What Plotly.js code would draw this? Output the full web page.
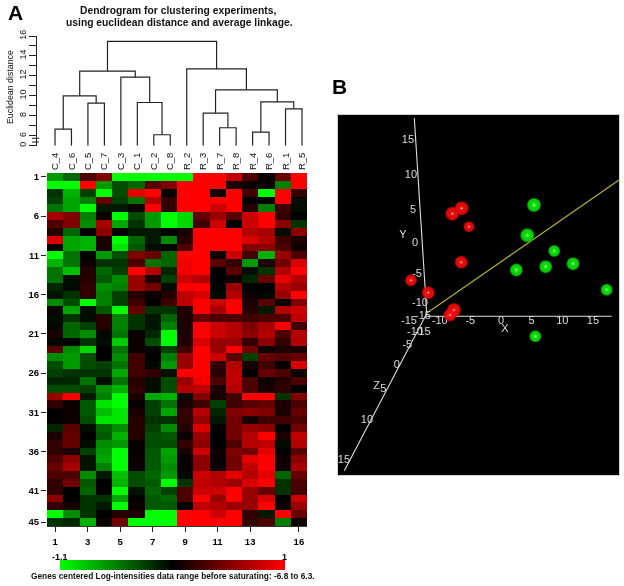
<!DOCTYPE html>
<html>
<head>
<meta charset="utf-8">
<script src="https://cdn.plot.ly/plotly-3.0.1.min.js"></script>
<style>html,body{margin:0;padding:0;background:#fff}#chart{width:624px;height:586px}.main-svg{will-change:transform}</style>
</head>
<body>
<div id="chart"></div>
<script>
// ---------- Panel A: dendrogram ----------
const leafLabels = ['C_4','C_6','C_5','C_7','C_3','C_1','C_2','C_8','R_2','R_3','R_7','R_8','R_4','R_6','R_1','R_5'];
// negative = leaf (1-based), positive = earlier merge (1-based)
const mergeLeft   = [-1,-3, 1,-7,-6,-5, 3,-11,-10,-13,-15,10, 9,-9, 7];
const mergeRight  = [-2,-4, 2,-8, 4, 5, 6,-12,  8,-14,-16,11,12,13,14];
const mergeHeight = [6.67,9.27,10.0,6.1,9.33,11.87,12.47,6.8,8.27,6.37,8.7,9.4,10.6,12.7,15.47];
const distTickVals = [5,6,7,8,9,10,11,12,13,14,15,16];
const distTickText = ['0','6','','8','','10','','12','','14','','16'];

// ---------- Panel A: heatmap (rows 1..45, experiments 1..16) ----------
const row01 = [-.6,-.4,.3,.5,-1,-1,-1,-1,-1,1,1,.75,.3,.03,.4,1];
const row02 = [-1,-1,1,-.6,-.3,-.4,.35,.5,1,1,1,.1,.05,.05,-.5,1];
const row03 = [-.2,-.7,-.25,-1,-.3,.9,1,0,1,1,.05,1,.25,-1,1,.2];
const row04 = [-.25,-.65,-.5,.4,-.25,-.45,.7,.2,1,1,1,1,0,0,1,-.05];
const row05 = [-.45,-.65,-1,-.1,-.1,.05,1,.2,1,1,.8,1,.15,-.5,.25,-.05];
const row06 = [.65,.5,-.5,.05,-1,-.3,-.6,-1,-.85,.4,.6,.35,.8,1,.2,0];
const row07 = [.3,.5,-.55,.65,-.65,-.2,-.6,-1,-.85,.25,.8,0,.8,1,.55,-.2];
const row08 = [.15,-.4,0,.55,0,-.1,-.1,-.02,.1,1,1,1,.7,.65,-.05,.55];
const row09 = [.85,-.65,-.7,.1,-1,-.4,-.1,-.55,.15,1,1,1,.85,.7,.25,.1];
const row10 = [.05,-.65,-.7,.1,-.9,-.35,-.05,0,.3,1,1,1,.5,.55,.3,.05];
const row11 = [-1,-.45,0,-.6,-.3,.5,.4,-.4,1,1,.05,.8,.25,-.7,.6,.3];
const row12 = [-.7,-.45,.05,-.2,-.2,.3,-.45,-.4,.95,1,.35,.2,-.6,.1,.45,.85];
const row13 = [-.45,-.75,.15,-.4,-.25,1,.7,-.15,.95,1,0,.35,-.05,-.2,.7,1];
const row14 = [-.45,-.05,.15,-.35,-.55,.6,.12,-.25,.8,.7,0,.05,-.15,.4,.9,.7];
const row15 = [-.15,-.05,.2,-.55,-.5,.6,.45,-.05,1,1,-.02,.6,0,0,.7,.6];
const row16 = [-.07,-.2,.2,-.5,-.25,.15,.05,.15,.75,.85,-.03,.7,.05,-.03,.6,1];
const row17 = [-.55,-.3,-1,-.5,-.25,.25,0,.25,.75,1,.8,1,.1,.35,0,.5];
const row18 = [.05,-.65,-.05,-.35,-1,.4,-.2,-.2,.12,1,.65,1,.15,-.1,.7,.8];
const row19 = [-.05,-.2,-.05,.15,-.5,-.2,-.08,-.4,.12,.4,.3,.3,.25,.3,.3,.75];
const row20 = [-.03,-.4,-.25,.15,-.5,-.2,-.08,-.5,.1,1,.8,.7,.5,.65,1,.25];
const row21 = [.1,-.4,-.55,-.03,-.45,.05,-.15,-1,.12,1,.8,.7,.55,.7,.3,.7];
const row22 = [-.03,0,-.2,-.05,-.8,.05,-.3,-1,.12,.85,.6,.6,.2,.55,.2,.7];
const row23 = [.35,-.55,-.85,0,-.45,.05,-.03,-.25,.25,1,.6,1,.45,.05,.12,.1];
const row24 = [-.55,-.6,-.3,0,-.55,.25,0,-.5,.6,1,.8,.35,-.25,.4,.35,.4];
const row25 = [-.3,-.6,-.3,-.25,-.45,.25,-.03,-.6,.6,1,.2,.7,.1,.25,.03,.85];
const row26 = [-.25,-.2,-.2,-.2,-.65,.25,.2,-.05,1,1,.15,.75,0,.4,.3,.03];
const row27 = [-.15,-.15,-.45,-.05,-.45,.15,-.05,-.3,.6,.95,.3,.75,.3,.05,.15,.3];
const row28 = [-.3,-.3,-.25,-.55,-.7,.2,-.05,-.3,.7,.75,.1,.7,.3,.1,.2,0];
const row29 = [.6,1,-.1,-.5,-1,.1,-.65,-.7,-.03,.5,.1,.25,1,1,-.2,.5];
const row30 = [.2,.05,-.35,-.9,-1,.03,-.25,-.45,.1,.25,-.25,.25,.35,.4,.1,.3];
const row31 = [0,.05,-.35,-.75,-.9,.1,-.25,-.65,.2,.7,-.15,.5,.55,.5,.1,.4];
const row32 = [.02,.05,-.3,-.9,-.9,.15,-.2,-.2,.2,.6,-.1,.45,.1,.25,.25,.3];
const row33 = [-.15,.35,-.05,-.4,-.55,.15,-.25,-.55,.15,.85,.02,.45,.6,.55,0,.45];
const row34 = [.1,.4,0,-.35,-.7,.15,-.3,-.35,.05,.6,0,.45,.7,1,.12,.75];
const row35 = [.2,.4,-.05,-.55,-.6,.03,-.3,-.3,.2,.55,0,.3,.7,.75,-.05,.7];
const row36 = [.2,.1,-.25,-.6,-1,.03,-.35,-.65,.1,.8,.05,.5,.45,.9,0,.35];
const row37 = [.3,.55,-.07,-.65,-1,.05,-.35,-.6,.03,.55,.03,.45,.9,1,.07,.55];
const row38 = [.4,.65,-.07,-.5,-1,.05,-.35,-.55,.03,.55,.05,.45,.75,1,.07,.65];
const row39 = [.3,.3,-.55,-.1,-.75,-.3,-.4,-.6,-.03,.8,.7,.9,.7,.9,-.4,.4];
const row40 = [.2,.45,-.35,0,-.7,-.3,-.35,-1,-.2,.75,.7,.6,.85,1,-.2,.3];
const row41 = [.2,0,-.4,0,-1,-.07,-.4,-.25,.3,.8,.8,1,.6,.4,-.2,.25];
const row42 = [.55,0,-.2,-.2,-.65,0,-.35,-.4,.3,1,.6,1,.6,.85,0,.8];
const row43 = [.2,.1,-.2,-.1,-1,.05,-.35,-.35,0,.75,.7,.6,.6,1,.05,.6];
const row44 = [-1,-.55,-.2,0,.15,.12,-1,-1,1,1,.8,1,.2,-.1,1,.4];
const row45 = [-.2,-.15,-.7,.05,.45,-1,-1,-1,1,1,1,1,.2,.3,-.5,.05];
const heatRows = [row01,row02,row03,row04,row05,row06,row07,row08,row09,row10,row11,row12,row13,row14,row15,
  row16,row17,row18,row19,row20,row21,row22,row23,row24,row25,row26,row27,row28,row29,row30,
  row31,row32,row33,row34,row35,row36,row37,row38,row39,row40,row41,row42,row43,row44,row45];
const heatColTicks = [1,3,5,7,9,11,13,16];
const heatRowTicks = [1,6,11,16,21,26,31,36,41,45];

// ---------- Panel B: projected scatter ----------
const redX = [-7.94,-6.41,-5.22,-6.48,-14.68,-11.86,-7.67,-8.32];
const redY = [4.23,5.0,2.37,-2.71,-5.29,-7.06,-9.53,-10.24];
const redSize = [14,14,11,13,12,13,14,13];
const greenX = [5.38,4.29,8.69,11.75,7.29,2.5,17.24,5.6];
const greenY = [5.47,1.14,-1.1,-2.91,-3.34,-3.81,-6.63,-13.29];
const greenSize = [14,14,12,13,13,13,12,12];
const axisLineX = {x:[-12.4,18.06], y:[-10.43,-10.43]};
const axisLineY = {x:[-14.14,-12.12], y:[17.86,-9.96]};
const axisLineZ = {x:[-12.07,-25.56], y:[-9.96,-32.49]};
const yellowLine = {x:[-12.07,19.25], y:[-9.96,9.04]};
const xTickVals = [-15,-10,-5,0,5,10,15];
const xTickRowY = [-11.2,-11.2,-11.2,-11.2,-11.2,-11.2,-11.2];
const yTickPosX = [-15.17,-14.68,-14.36,-14.03,-13.7,-13.21,-12.72];
const yTickPosY = [14.76,9.71,4.76,0,-4.39,-8.57,-10.39];
const yTickText = ['15','10','5','0','-5','-10','-15'];
const zTickPosX = [-12.77,-14.03,-15.28,-17.01,-19.2,-21.86,-25.61];
const zTickPosY = [-12.71,-12.71,-14.63,-17.49,-20.86,-25.24,-30.96];
const zTickText = ['-15','-10','-5','0','5','10','15'];
const axisNameX = [0.65,-15.99,-20.28];
const axisNameY = [-12.24,1.19,-20.39];
const axisNames = ['X','Y','Z'];

// ---------- pixel frame helpers (layout only) ----------
const W = 624, H = 586;
const px = v => v / W, py = v => 1 - v / H;
const FONT = '"Liberation Sans", Arial, sans-serif';

// dendrogram geometry from merges
const mergePos = [], mergeTop = [];
const segX = [], segY = [];
const childPos = c => c < 0 ? -c : mergePos[c-1];
const childTop = c => c < 0 ? 5 : mergeTop[c-1];
mergeHeight.forEach((h,i) => {
  const a = childPos(mergeLeft[i]), b = childPos(mergeRight[i]);
  segX.push(a,a,b,b,null);
  segY.push(childTop(mergeLeft[i]),h,h,childTop(mergeRight[i]),null);
  mergePos[i] = (a+b)/2; mergeTop[i] = h;
});
const leafPos = leafLabels.map((_,i) => i+1);

const textTrace = (x,y,text,size) => ({type:'scatter',mode:'text',x,y,text,xaxis:'x3',yaxis:'y3',
  textposition:'middle center',textfont:{family:FONT,size,color:'#dcdcdc'},hoverinfo:'skip',showlegend:false});
const lineTrace = (o,color,width) => ({type:'scatter',mode:'lines',x:o.x,y:o.y,xaxis:'x3',yaxis:'y3',
  line:{color,width},hoverinfo:'skip',showlegend:false});
const sphereTrace = (x,y,size,edge,center) => ({type:'scatter',mode:'markers',x,y,xaxis:'x3',yaxis:'y3',
  hoverinfo:'skip',showlegend:false,marker:{size,color:edge,line:{width:0},gradient:{type:'radial',color:center}}});

const traces = [
  {type:'heatmap',z:heatRows,x:heatRows[0].map((_,i)=>i+1),y:heatRows.map((_,i)=>i+1),xaxis:'x',yaxis:'y',
   zmin:-1,zmax:1,colorscale:[[0,'#00ff00'],[0.5,'#000000'],[1,'#ff0000']],xgap:0,ygap:0,
   colorbar:{orientation:'h',x:px((59.7+285)/2),xanchor:'center',y:py(570),yanchor:'bottom',
     lenmode:'pixels',len:225.3,thicknessmode:'pixels',thickness:9.5,outlinewidth:0,borderwidth:0,xpad:0,ypad:0,
     ticks:'',showticklabels:false}},
  {type:'scatter',mode:'lines',x:segX,y:segY,xaxis:'x2',yaxis:'y2',line:{color:'#222',width:1.2},
   connectgaps:false,hoverinfo:'skip',showlegend:false},
  lineTrace(axisLineX,'#e0e0e0',1.1),
  lineTrace(axisLineY,'#e0e0e0',1.1),
  lineTrace(axisLineZ,'#e0e0e0',1.1),
  lineTrace(yellowLine,'#b0b030',1.2),
  textTrace(xTickVals,xTickRowY,xTickVals.map(String),11),
  textTrace(yTickPosX,yTickPosY,yTickText,11),
  textTrace(zTickPosX,zTickPosY,zTickText,11),
  textTrace(axisNameX,axisNameY,axisNames,11),
  sphereTrace(redX,redY,redSize,'#c80000','#ff1818'),
  sphereTrace(greenX,greenY,greenSize,'#00b400','#18ff18'),
  sphereTrace(redX,redY,redSize.map(s=>s-1.5),'#f00808','#ff1818'),
  sphereTrace(greenX,greenY,greenSize.map(s=>s-1.5),'#08e008','#18ff18'),
  sphereTrace(redX,redY,4,'rgba(255,30,30,0)','#fff0f0'),
  sphereTrace(greenX,greenY,5,'rgba(30,240,30,0)','#b0ffb0')
];

const tickFont = {family:FONT,size:9.5,color:'#000'};
const bold = a => a.map(v => '<b>'+v+'</b>');
const layout = {
  width:W,height:H,margin:{l:0,r:0,t:0,b:0},paper_bgcolor:'#fff',plot_bgcolor:'#fff',showlegend:false,
  xaxis:{domain:[px(47),px(307)],range:[0.5,16.5],anchor:'y',tickmode:'array',tickvals:heatColTicks,ticktext:bold(heatColTicks),
    ticks:'outside',ticklen:5,tickwidth:1,tickcolor:'#222',showline:true,linecolor:'#333',linewidth:1,
    showgrid:false,zeroline:false,tickfont:tickFont,ticklabelstandoff:2},
  yaxis:{domain:[py(526),py(173)],range:[45.5,0.5],anchor:'x',tickmode:'array',tickvals:heatRowTicks,ticktext:bold(heatRowTicks),
    ticks:'outside',ticklen:5,tickwidth:1,tickcolor:'#222',showline:false,
    showgrid:false,zeroline:false,tickfont:tickFont},
  xaxis2:{domain:[px(36.7),px(307)],range:[1-(55-36.7)/16.47,16+(307-302)/16.47],anchor:'y2',tickmode:'array',
    tickvals:leafPos,ticktext:leafLabels,tickangle:-90,ticks:'',showline:false,showgrid:false,zeroline:false,
    tickfont:{family:FONT,size:9.5,color:'#111'},ticklabelstandoff:4},
  yaxis2:{domain:[py(145.7),py(36)],range:[5,16],anchor:'x2',tickmode:'array',tickvals:distTickVals,ticktext:distTickText,
    tickangle:-90,ticks:'outside',ticklen:7,tickwidth:1,tickcolor:'#222',showline:true,linecolor:'#222',linewidth:1,
    showgrid:false,zeroline:false,tickfont:{family:FONT,size:9,color:'#111'},ticklabelstandoff:-1},
  xaxis3:{domain:[px(337.7),px(619)],range:[-26.64,19.25],anchor:'y3',visible:true,showticklabels:false,ticks:'',
    showgrid:false,zeroline:false,showline:true,mirror:true,linecolor:'#cfcfcf',linewidth:1},
  yaxis3:{domain:[py(475),py(114.7)],range:[-33.1,18.37],anchor:'x3',visible:true,showticklabels:false,ticks:'',
    showgrid:false,zeroline:false,showline:true,mirror:true,linecolor:'#cfcfcf',linewidth:1},
  shapes:[
    {type:'rect',xref:'x3 domain',yref:'y3 domain',x0:0,x1:1,y0:0,y1:1,fillcolor:'#000',line:{width:0},layer:'below'},
    {type:'line',xref:'paper',yref:'paper',x0:px(32),x1:px(39),y0:py(138.3),y1:py(138.3),line:{color:'#222',width:1}},
    {type:'line',xref:'paper',yref:'paper',x0:px(32),x1:px(39),y0:py(142),y1:py(142),line:{color:'#222',width:1}}
  ],
  annotations:[
    {text:'<b>A</b>',xref:'paper',yref:'paper',x:px(15),y:py(13),xanchor:'center',yanchor:'middle',showarrow:false,font:{family:FONT,size:21,color:'#000'}},
    {text:'<b>B</b>',xref:'paper',yref:'paper',x:px(339.5),y:py(86.5),xanchor:'center',yanchor:'middle',showarrow:false,font:{family:FONT,size:21,color:'#000'}},
    {text:'<b>Dendrogram for clustering experiments,</b>',xref:'paper',yref:'paper',x:px(178),y:py(10.5),xanchor:'center',yanchor:'middle',showarrow:false,font:{family:FONT,size:10.3,color:'#111'}},
    {text:'<b>using euclidean distance and average linkage.</b>',xref:'paper',yref:'paper',x:px(179.5),y:py(22.5),xanchor:'center',yanchor:'middle',showarrow:false,font:{family:FONT,size:10.3,color:'#111'}},
    {text:'Euclidean distance',xref:'paper',yref:'paper',x:px(10),y:py(87),xanchor:'center',yanchor:'middle',textangle:-90,showarrow:false,font:{family:FONT,size:8.8,color:'#111'}},
    {text:'<b>-1.1</b>',xref:'paper',yref:'paper',x:px(60),y:py(556.5),xanchor:'center',yanchor:'middle',showarrow:false,font:{family:FONT,size:9,color:'#000'}},
    {text:'<b>1</b>',xref:'paper',yref:'paper',x:px(284),y:py(556.5),xanchor:'center',yanchor:'middle',showarrow:false,font:{family:FONT,size:9,color:'#000'}},
    {text:'<b>Genes centered Log-intensities data range before saturating: -6.8 to 6.3.</b>',xref:'paper',yref:'paper',x:px(172.5),y:py(576),xanchor:'center',yanchor:'middle',showarrow:false,font:{family:FONT,size:8.3,color:'#111'}}
  ]
};
Plotly.newPlot('chart',traces,layout,{displayModeBar:false,staticPlot:true});
</script>
</body>
</html>
